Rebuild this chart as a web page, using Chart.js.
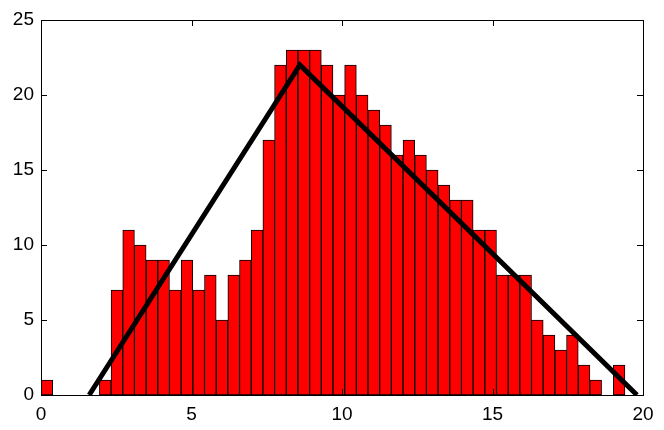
<!DOCTYPE html>
<html>
<head>
<meta charset="utf-8">
<script src="https://cdn.jsdelivr.net/npm/chart.js@4"></script>
<style>
  html, body { margin: 0; padding: 0; background: #fff; }
  #wrap { width: 664px; height: 430px; }
</style>
</head>
<body>
<div id="wrap"><canvas id="c" width="664" height="430"></canvas></div>
<script>
// histogram: 50 bins starting at 0
const binStart = 0
const binWidth = 0.388
const counts = [1, 0, 0, 0, 0, 1, 7, 11, 10, 9,
                9, 7, 9, 7, 8, 5, 8, 9, 11, 17,
                22, 23, 23, 23, 22, 20, 22, 20, 19, 18,
                16, 17, 16, 15, 14, 13, 13, 11, 11, 8,
                8, 8, 5, 4, 3, 4, 2, 1, 0, 2]

// triangle fitted over the histogram
const lineX = [1.6, 8.6, 19.8]
const lineY = [0, 22, 0]

const xTicks = [0, 5, 10, 15, 20]
const yTicks = [0, 5, 10, 15, 20, 25]

let barData = []
for (let i = 0; i < counts.length; i++) {
    barData.push({x: binStart + (i + 0.5) * binWidth, y: counts[i]})
}
let lineData = []
for (let i = 0; i < lineX.length; i++) {
    lineData.push({x: lineX[i], y: lineY[i]})
}

// matlab style box with inward ticks
const boxPlugin = {
    id: "box",
    afterDatasetsDraw(chart) {
        const ctx = chart.ctx
        const a = chart.chartArea
        const xs = chart.scales.x
        const ys = chart.scales.y
        ctx.save()
        ctx.strokeStyle = "#000"
        ctx.lineWidth = 1
        ctx.strokeRect(Math.round(a.left) + 0.5, Math.round(a.top) + 0.5,
                       Math.round(a.right - a.left), Math.round(a.bottom - a.top))
        ctx.beginPath()
        for (let v of yTicks) {
            let y = Math.round(ys.getPixelForValue(v)) + 0.5
            ctx.moveTo(a.left, y); ctx.lineTo(a.left + 6, y)
            ctx.moveTo(a.right, y); ctx.lineTo(a.right - 6, y)
        }
        for (let v of xTicks) {
            let x = Math.round(xs.getPixelForValue(v)) + 0.5
            ctx.moveTo(x, a.bottom); ctx.lineTo(x, a.bottom - 6)
            ctx.moveTo(x, a.top); ctx.lineTo(x, a.top + 6)
        }
        ctx.stroke()
        ctx.restore()
    }
}

const tickFont = {family: "'Liberation Sans', Arial, sans-serif", size: 19}

new Chart(document.getElementById("c").getContext("2d"), {
    type: "bar",
    data: {
        datasets: [
            {
                type: "line",
                data: lineData,
                borderColor: "#000",
                borderWidth: 5,
                pointRadius: 0,
                tension: 0,
                fill: false,
                order: 0
            },
            {
                type: "bar",
                data: barData,
                backgroundColor: "#ff0000",
                borderColor: "#000",
                borderWidth: 1,
                borderSkipped: false,
                barPercentage: 1,
                categoryPercentage: 1,
                order: 1
            }
        ]
    },
    plugins: [boxPlugin],
    options: {
        responsive: false,
        animation: false,
        layout: {padding: {top: 20, right: 21, left: 0, bottom: 0}},
        plugins: {legend: {display: false}, tooltip: {enabled: false}},
        scales: {
            x: {
                type: "linear",
                min: 0,
                max: 20,
                offset: false,
                grid: {display: false, drawTicks: false, offset: false},
                border: {display: false},
                afterFit(s) { s.height = 35 },
                ticks: {
                    stepSize: 5,
                    padding: 8,
                    color: "#000",
                    font: tickFont,
                    maxRotation: 0,
                    autoSkip: false
                }
            },
            y: {
                min: 0,
                max: 25,
                grid: {display: false, drawTicks: false},
                border: {display: false},
                afterFit(s) { s.width = 41 },
                ticks: {
                    stepSize: 5,
                    padding: 7,
                    color: "#000",
                    font: tickFont
                }
            }
        }
    }
})
</script>
</body>
</html>
